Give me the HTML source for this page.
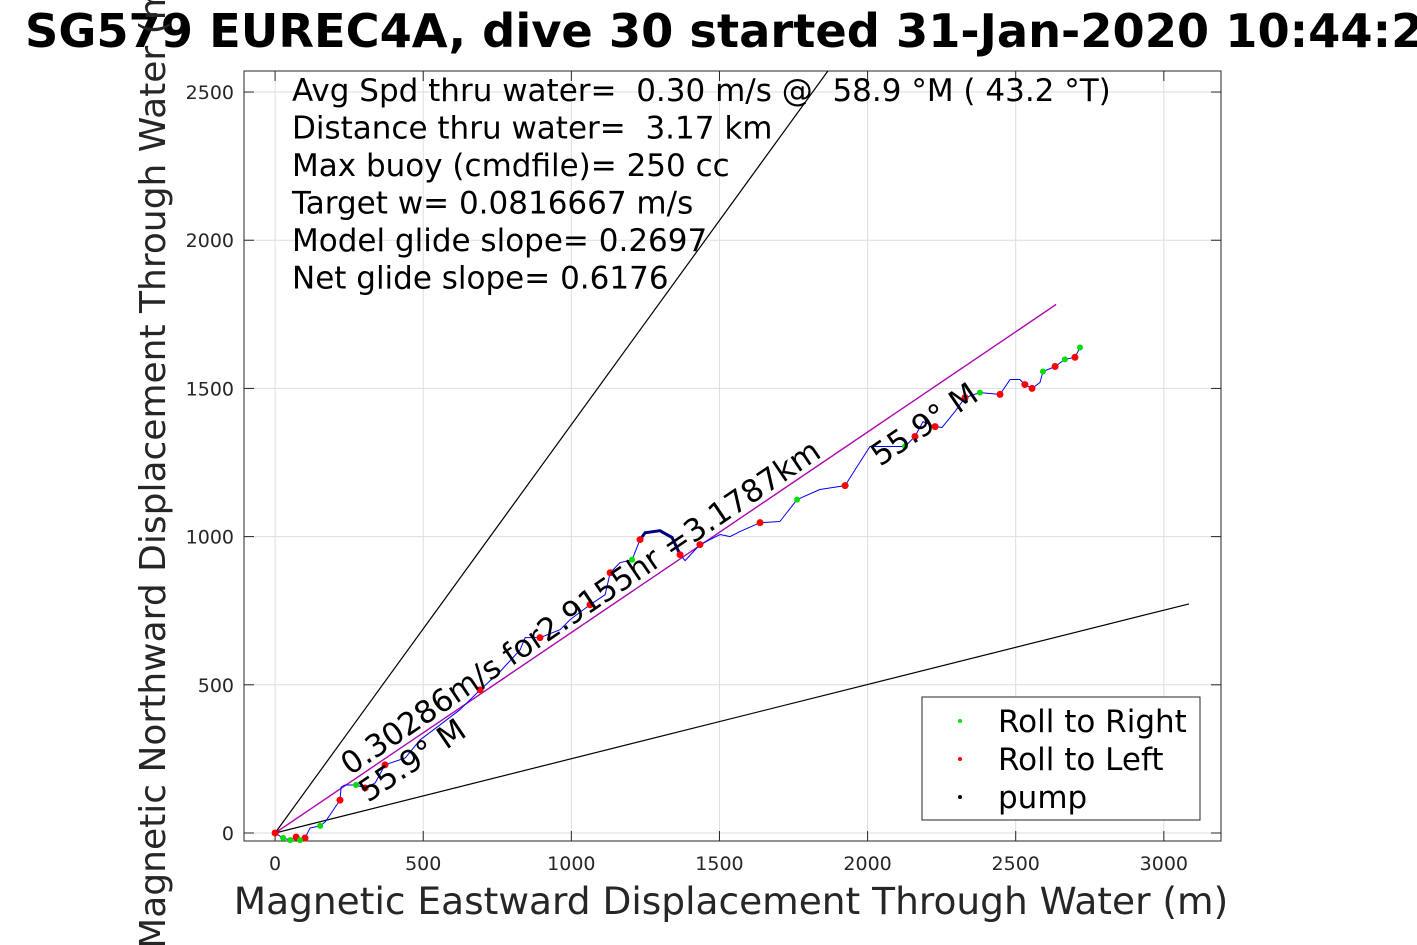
<!DOCTYPE html>
<html><head><meta charset="utf-8"><style>
html,body{margin:0;padding:0;background:#fff;overflow:hidden;width:1417px;height:945px}
svg{display:block;font-family:"DejaVu Sans","Liberation Sans",sans-serif;overflow:hidden}
text{white-space:pre}
</style></head><body>
<svg id="c" width="1417" height="945" xmlns="http://www.w3.org/2000/svg">
<text x="25" y="47" font-size="46.3" font-weight="bold" fill="#000">SG579 EUREC4A, dive 30 started 31-Jan-2020 10:44:23</text>
</svg>
<script>
const xTicks=[0,500,1000,1500,2000,2500,3000];
const yTicks=[0,500,1000,1500,2000,2500];
const trackE=[0,27,51,71,84,101,118,152,169,219,223,236,273,304,338,371,439,489,557,624,692,759,827,844,894,962,996,1063,1114,1131,1164,1205,1232,1249,1299,1340,1367,1384,1434,1502,1536,1569,1637,1704,1762,1839,1924,1958,2008,2126,2160,2187,2228,2251,2295,2329,2379,2447,2481,2514,2531,2555,2582,2592,2633,2666,2700,2717];
const trackN=[0,-17,-24,-14,-24,-17,17,24,37,111,155,162,162,152,169,230,253,314,365,416,483,544,618,659,659,686,720,770,804,878,912,922,990,1013,1020,997,939,919,973,1007,1000,1017,1047,1051,1125,1159,1172,1226,1304,1304,1338,1388,1371,1368,1422,1469,1486,1480,1530,1530,1513,1500,1520,1557,1574,1598,1605,1638];
const leftIdx=[0,3,5,9,13,15,20,24,27,29,32,36,38,42,46,50,52,55,57,60,61,64,66];
const rightIdx=[1,2,4,7,12,31,44,49,56,63,65,67];
const steepLine=[[0,0],[1866,2571]];
const shallowLine=[[0,0],[3085,773]];
const headingLine=[[0,0],[2636,1783]];
const infoLines=["Avg Spd thru water=  0.30 m/s @  58.9 °M ( 43.2 °T)","Distance thru water=  3.17 km","Max buoy (cmdfile)= 250 cc","Target w= 0.0816667 m/s","Model glide slope= 0.2697","Net glide slope= 0.6176"];
const L=244,R=1221,T=71,B=841,X0=-105,X1=3193,Y0=-27,Y1=2571;
const sx=v=>L+(v-X0)/(X1-X0)*(R-L), sy=v=>B-(v-Y0)/(Y1-Y0)*(B-T);
const svg=document.getElementById('c'),NS="http://www.w3.org/2000/svg";
function el(t,a,p){const e=document.createElementNS(NS,t);for(const k in a)e.setAttribute(k,a[k]);(p||svg).appendChild(e);return e;}
const g=el('g',{});


xTicks.forEach(v=>{el('line',{x1:sx(v),x2:sx(v),y1:T,y2:B,stroke:'#dedede','stroke-width':1},g);});
yTicks.forEach(v=>{el('line',{x1:L,x2:R,y1:sy(v),y2:sy(v),stroke:'#dedede','stroke-width':1},g);});
const fr=el('rect',{x:L,y:T,width:R-L,height:B-T,fill:'none',stroke:'#262626','stroke-width':1});


xTicks.forEach(v=>{const x=sx(v);el('line',{x1:x,x2:x,y1:B,y2:B-10,stroke:'#262626'});el('line',{x1:x,x2:x,y1:T,y2:T+10,stroke:'#262626'});
const t=el('text',{x:x,y:B+29,'font-size':19,'text-anchor':'middle',fill:'#262626'});t.textContent=v;

});
yTicks.forEach(v=>{const y=sy(v);el('line',{x1:L,x2:L+10,y1:y,y2:y,stroke:'#262626'});el('line',{x1:R,x2:R-10,y1:y,y2:y,stroke:'#262626'});
const t=el('text',{x:L-10,y:y+7,'font-size':19,'text-anchor':'end',fill:'#262626'});t.textContent=v;

});
function seg(p,c,n){const l=el('line',{x1:sx(p[0][0]),y1:sy(p[0][1]),x2:sx(p[1][0]),y2:sy(p[1][1]),stroke:c,'stroke-width':1.2});

}
seg(steepLine,'#000','steep-glide-line');
seg(shallowLine,'#000','shallow-glide-line');
seg(headingLine,'#000','heading-line-black');
seg(headingLine,'#c000c0','heading-line-magenta');
const tr=el('polyline',{points:trackE.map((e,i)=>sx(e)+','+sy(trackN[i])).join(' '),fill:'none',stroke:'#0000ff','stroke-width':1,'stroke-linejoin':'round'});


const loop=el('polyline',{points:[32,33,34,35,36].map(i=>sx(trackE[i])+','+sy(trackN[i])).join(' '),fill:'none',stroke:'#000080','stroke-width':3});


leftIdx.forEach(i=>{const c=el('circle',{cx:sx(trackE[i]),cy:sy(trackN[i]),r:3.5,fill:'#ff0000'});

});
rightIdx.forEach(i=>{const c=el('circle',{cx:sx(trackE[i]),cy:sy(trackN[i]),r:3,fill:'#00dd00'});

});
const ang=Math.atan2(sy(headingLine[1][1])-sy(0),sx(headingLine[1][0])-sx(0))*180/Math.PI;
function rt(x,y,s,n,fs){const t=el('text',{x:x,y:y,'font-size':fs,fill:'#000',transform:`rotate(${ang} ${x} ${y})`});t.textContent=s;

}
rt(350,776,'0.30286m/s for2.9155hr =3.1787km','speed-annotation',31);
rt(368,803,'55.9° M','heading-annotation-start',31);
rt(880,467,'55.9° M','heading-annotation-end',31);
infoLines.forEach((s,i)=>{const t=el('text',{x:292,y:101+i*37.5,'font-size':31,fill:'#000'});t.textContent=s;

});
const lg=el('g',{});


el('rect',{x:922,y:697,width:278,height:123,fill:'#fff',stroke:'#262626'},lg);
[['Roll to Right','#00dd00'],['Roll to Left','#ff0000'],['pump','#000']].forEach((d,i)=>{const y=721+i*38;
el('circle',{cx:960,cy:y,r:2,fill:d[1]},lg);
const t=el('text',{x:998,y:y+11,'font-size':31,fill:'#000'},lg);t.textContent=d[0];

});
const xl=el('text',{x:731,y:914,'font-size':37.5,'text-anchor':'middle',fill:'#262626'});xl.textContent='Magnetic Eastward Displacement Through Water (m)';


const yl=el('text',{x:0,y:0,'font-size':36,'text-anchor':'middle',fill:'#262626',transform:'translate(165,460) rotate(-90)'});yl.textContent='Magnetic Northward Displacement Through Water (m)';


</script>
</body></html>
